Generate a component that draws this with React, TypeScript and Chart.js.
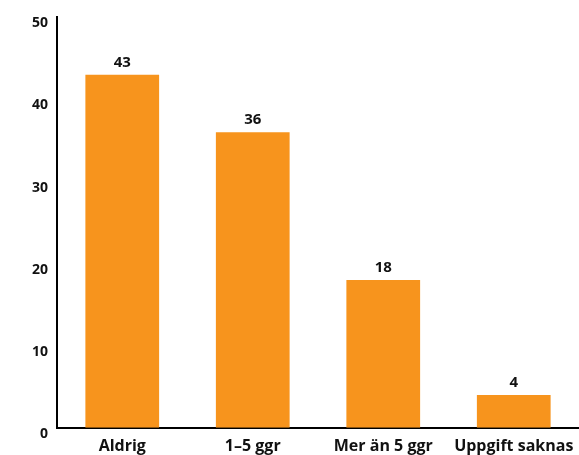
import React, { useEffect, useRef } from "react";
import { Chart, registerables } from "chart.js";

Chart.register(...registerables);

const categories = ["Aldrig", "1–5 ggr", "Mer än 5 ggr", "Uppgift saknas"];
const values = [43, 36, 18, 4];
const yTicks = [0, 10, 20, 30, 40, 50];

const ORANGE = "#F7941D";
const FONT = "'Open Sans', 'Noto Sans', sans-serif";

const valueLabels = {
  id: "valueLabels",
  afterDatasetsDraw(chart: any) {
    const ctx = chart.ctx;
    const meta = chart.getDatasetMeta(0);
    ctx.save();
    ctx.fillStyle = "#111";
    ctx.font = `700 15px ${FONT}`;
    ctx.textAlign = "center";
    ctx.textBaseline = "bottom";
    meta.data.forEach((bar: any, i: number) => {
      ctx.fillText(String(values[i]), bar.x, bar.y - 5);
    });
    ctx.restore();
  },
};

export default function App() {
  const ref = useRef<HTMLCanvasElement>(null);
  useEffect(() => {
    if (!ref.current) return;
    const chart = new Chart(ref.current, {
      type: "bar",
      data: {
        labels: categories,
        datasets: [
          {
            data: values,
            backgroundColor: ORANGE,
            borderWidth: 0,
            barPercentage: 0.565,
            categoryPercentage: 1,
          },
        ],
      },
      options: {
        animation: false,
        responsive: false,
        maintainAspectRatio: false,
        layout: { padding: { top: 16, right: 0, left: 0, bottom: -10 } },
        plugins: {
          legend: { display: false },
          tooltip: { enabled: false },
        },
        scales: {
          x: {
            afterFit: (s: any) => {
              s.paddingLeft = 0;
              s.paddingRight = 0;
            },
            grid: { display: false, drawTicks: false },
            border: { display: true, color: "#000", width: 2 },
            ticks: {
              color: "#111",
              padding: 9,
              font: { family: FONT, size: 16, weight: "bold" },
              maxRotation: 0,
              autoSkip: false,
            },
          },
          y: {
            min: 0,
            max: 50,
            afterFit: (s: any) => {
              s.width = 57;
            },
            afterBuildTicks: (s: any) => {
              s.ticks = yTicks.map((v) => ({ value: v }));
            },
            grid: { display: false, drawTicks: false },
            border: { display: true, color: "#000", width: 2 },
            ticks: {
              color: "#111",
              padding: 9,
              labelOffset: 6,
              font: { family: FONT, size: 14, weight: "bold" },
            },
          },
        },
      },
      plugins: [valueLabels],
    });
    return () => chart.destroy();
  }, []);
  return (
    <div style={{ position: "absolute", left: 0, top: 0, width: 579, height: 455, overflow: "hidden", background: "#fff" }}>
      <canvas ref={ref} width={579} height={455} style={{ display: "block" }} />
    </div>
  );
}
